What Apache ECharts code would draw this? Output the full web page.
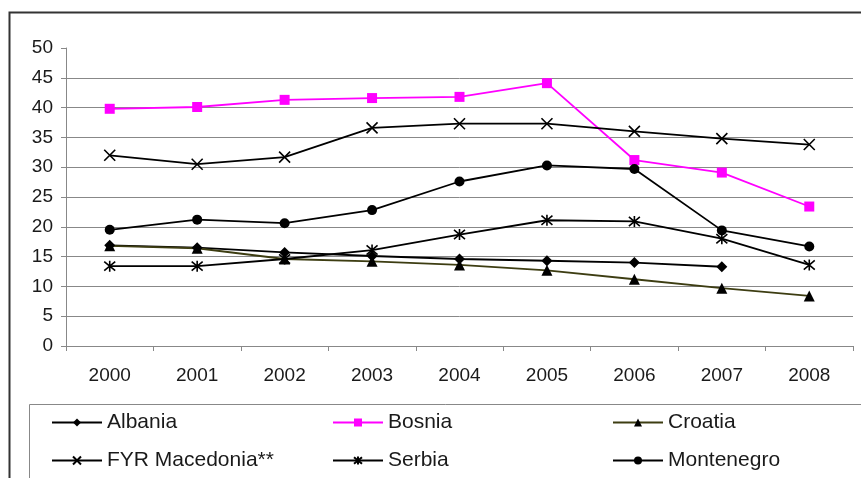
<!DOCTYPE html>
<html>
<head>
<meta charset="utf-8">
<script src="https://cdn.jsdelivr.net/npm/echarts@6/dist/echarts.min.js"></script>
<style>html,body{margin:0;padding:0;background:#fff;}#chart{width:861px;height:478px;}</style>
</head>
<body>
<div id="chart"></div>
<script>
const years = ['2000','2001','2002','2003','2004','2005','2006','2007','2008'];
const yTicks = [0, 50, 5];
const albania    = [16.9, 16.5, 15.7, 15.1, 14.6, 14.3, 14.0, 13.3, null];
const bosnia     = [39.8, 40.1, 41.3, 41.6, 41.8, 44.1, 31.2, 29.1, 23.4];
const croatia    = [16.8, 16.4, 14.6, 14.2, 13.6, 12.7, 11.2, 9.7, 8.4];
const macedonia  = [32.0, 30.5, 31.7, 36.6, 37.3, 37.3, 36.0, 34.8, 33.8];
const serbia     = [13.4, 13.4, 14.6, 16.1, 18.7, 21.1, 20.9, 18.0, 13.6];
const montenegro = [19.5, 21.2, 20.6, 22.8, 27.6, 30.3, 29.7, 19.4, 16.7];

const FONT = '"Liberation Sans", Arial, sans-serif';
const X_PATH = 'path://M0,0L10,10M10,0L0,10';
const STAR_PATH = 'path://M0,0L10,10M10,0L0,10M5,-1L5,11';

function mk(name, data, color, symbol, size, lineColor) {
  return {
    name, type: 'line', data, symbol, symbolSize: size,
    showAllSymbol: true, connectNulls: false,
    lineStyle: {color: lineColor || color, width: 1.8},
    itemStyle: {color: color, borderColor: color, borderWidth: (symbol.indexOf('path') === 0 ? 1.6 : 0)},
    emphasis: {disabled: true},
    animation: false
  };
}

const chart = echarts.init(document.getElementById('chart'));
const legendCommon = {
  orient: 'vertical', top: 412, padding: 0, itemGap: 17,
  itemWidth: 50, itemHeight: 10,
  textStyle: {fontFamily: FONT, fontSize: 21, color: '#1a1a1a', lineHeight: 20},
  selectedMode: false
};
chart.setOption({
  backgroundColor: '#fff',
  animation: false,
  grid: {left: 66, right: 8, top: 48, bottom: 132, containLabel: false},
  xAxis: {
    type: 'category', data: years, boundaryGap: true,
    axisLine: {lineStyle: {color: '#888', width: 1}},
    axisTick: {show: true, alignWithLabel: false, length: 5, lineStyle: {color: '#888'}},
    axisLabel: {fontFamily: FONT, fontSize: 19, color: '#1a1a1a', margin: 20},
    splitLine: {show: false}
  },
  yAxis: {
    type: 'value', min: yTicks[0], max: yTicks[1], interval: yTicks[2],
    axisLine: {show: true, lineStyle: {color: '#888', width: 1}},
    axisTick: {show: true, length: 5, lineStyle: {color: '#888'}},
    axisLabel: {fontFamily: FONT, fontSize: 19, color: '#1a1a1a', margin: 13},
    splitLine: {show: true, showMaxLine: false, lineStyle: {color: '#888', width: 1}}
  },
  legend: [
    Object.assign({left: 51, data: ['Albania', 'FYR Macedonia**']}, legendCommon),
    Object.assign({left: 332, data: ['Bosnia', 'Serbia']}, legendCommon),
    Object.assign({left: 612, data: ['Croatia', 'Montenegro']}, legendCommon)
  ],
  graphic: [
    {type: 'rect', shape: {x: 9.5, y: 12.5, width: 900, height: 600}, style: {fill: 'none', stroke: '#333', lineWidth: 2}, silent: true},
    {type: 'rect', shape: {x: 29.5, y: 404.5, width: 900, height: 200}, style: {fill: 'none', stroke: '#888', lineWidth: 1}, silent: true}
  ],
  series: [
    mk('Albania', albania, '#000', 'diamond', 11),
    mk('Bosnia', bosnia, '#ff00ff', 'rect', 10),
    mk('Croatia', croatia, '#000', 'triangle', 11, '#3d3d12'),
    mk('FYR Macedonia**', macedonia, '#000', X_PATH, 11),
    mk('Serbia', serbia, '#000', STAR_PATH, 11),
    mk('Montenegro', montenegro, '#000', 'circle', 10)
  ]
});
</script>
</body>
</html>
